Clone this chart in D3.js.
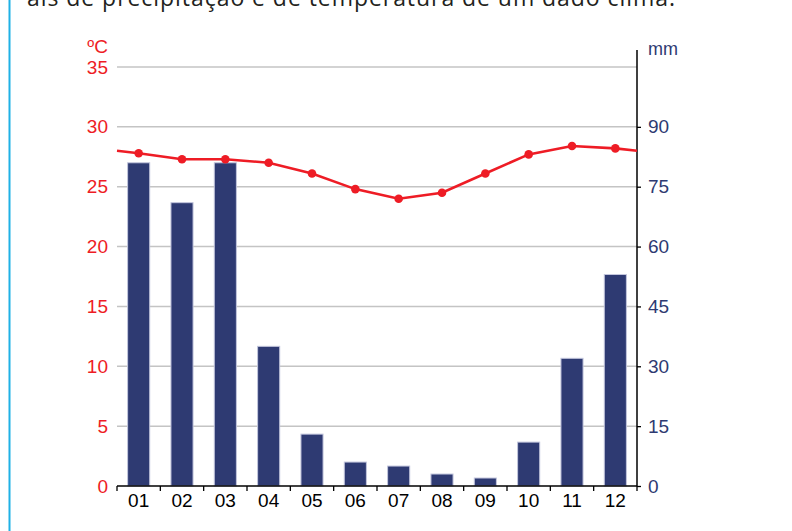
<!DOCTYPE html>
<html>
<head>
	<meta charset="utf-8">
	<title>climograma</title>
	<script src="https://cdn.jsdelivr.net/npm/d3@7"></script>
</head>
<style type="text/css">
body { margin:0; background:#fff; }
.tick text { font-family:"Liberation Sans", Arial, sans-serif; }
</style>
<body>
</body>
</html>
<script type="text/javascript">
	var months = ["01","02","03","04","05","06","07","08","09","10","11","12"];
	var rain = [81, 71, 81, 35, 13, 6, 5, 3, 2, 11, 32, 53];            // mm
	var temp = [27.8, 27.3, 27.3, 27.0, 26.1, 24.8, 24.0, 24.5, 26.1, 27.7, 28.4, 28.2]; // ºC
	var edgeTemp = 28.0;  // where the line meets the left and right edges
	var tempTicks = [0, 5, 10, 15, 20, 25, 30, 35];
	var rainTicks = [0, 15, 30, 45, 60, 75, 90];
	var title = "ais de precipitação e de temperatura de um dado clima.";

	var w = 792, h = 531;
	var left = 117, right = 637, topY = 67, bottom = 486;

	var svg = d3.select("body").append("svg").attr("width", w).attr("height", h);

	// frame line and cut title
	svg.append("line").attr("x1", 9.5).attr("x2", 9.5).attr("y1", 0).attr("y2", h)
		.attr("stroke", "#1fb1e6").attr("stroke-width", 2);
	svg.append("text").attr("x", 27).attr("y", 6)
		.attr("font-family", "Open Sans").attr("font-size", 23).attr("fill", "#231f20")
		.attr("textLength", 648).text(title);

	var x = d3.scaleBand().domain(months).range([left, right]).paddingInner(0.49).paddingOuter(0.245);
	var yT = d3.scaleLinear().domain([0, 35]).range([bottom, topY]);
	var yR = d3.scaleLinear().domain([0, 105]).range([bottom, topY]);

	// grid
	svg.append("g").selectAll("line").data(tempTicks.slice(1)).enter().append("line")
		.attr("x1", left).attr("x2", right)
		.attr("y1", function(d){return yT(d)}).attr("y2", function(d){return yT(d)})
		.attr("stroke", "#c4c4c4").attr("stroke-width", 1.5);

	// bars
	svg.append("g").selectAll("rect").data(rain).enter().append("rect")
		.attr("x", function(d,i){return x(months[i])})
		.attr("y", function(d){return yR(d)})
		.attr("width", x.bandwidth())
		.attr("height", function(d){return bottom - yR(d)})
		.attr("fill", "#2e3a72").attr("stroke", "#c3c6dd").attr("stroke-width", 1);

	// left axis (labels only)
	var yaxis = d3.axisLeft(yT).tickValues(tempTicks).tickSize(0).tickPadding(9);
	var gl = svg.append("g").attr("transform", "translate(" + left + ",0)").call(yaxis);
	gl.select(".domain").remove();
	gl.selectAll("text").attr("fill", "#ee1c25").attr("font-size", 19);
	svg.append("text").attr("x", 108).attr("y", 53).attr("text-anchor", "end")
		.attr("font-family", "Liberation Sans").attr("font-size", 19).attr("fill", "#ee1c25").text("ºC");

	// right axis
	var raxis = d3.axisRight(yR).tickValues(rainTicks).tickSize(4).tickPadding(7);
	var gr = svg.append("g").attr("transform", "translate(" + right + ",0)").call(raxis);
	gr.select(".domain").remove();
	gr.selectAll("line").attr("stroke", "#000").attr("stroke-width", 1.3);
	gr.selectAll("text").attr("fill", "#2e3a72").attr("font-size", 19);
	svg.append("line").attr("x1", right).attr("x2", right).attr("y1", 50).attr("y2", bottom)
		.attr("stroke", "#000").attr("stroke-width", 1.5);
	svg.append("text").attr("x", 648).attr("y", 55)
		.attr("font-family", "Liberation Sans").attr("font-size", 18).attr("fill", "#2e3a72").text("mm");

	// x axis
	var xaxis = d3.axisBottom(x).tickSize(0).tickPadding(8);
	var gx = svg.append("g").attr("transform", "translate(0," + bottom + ")").call(xaxis);
	gx.select(".domain").remove();
	gx.selectAll("text").attr("fill", "#000").attr("font-size", 19);
	svg.append("line").attr("x1", left).attr("x2", right).attr("y1", bottom).attr("y2", bottom)
		.attr("stroke", "#000").attr("stroke-width", 1.5);
	var step = x.step();
	svg.append("g").selectAll("line").data(d3.range(months.length + 1)).enter().append("line")
		.attr("x1", function(d){return left + d * step}).attr("x2", function(d){return left + d * step})
		.attr("y1", bottom).attr("y2", bottom + 5)
		.attr("stroke", "#000").attr("stroke-width", 1.3);

	// temperature line
	var cx = function(i){return x(months[i]) + x.bandwidth() / 2};
	var pts = [[left, yT(edgeTemp)]].concat(temp.map(function(d,i){return [cx(i), yT(d)]})).concat([[right, yT(edgeTemp)]]);
	svg.append("path").attr("d", d3.line()(pts))
		.attr("fill", "none").attr("stroke", "#ee1c25").attr("stroke-width", 2.6);
	svg.append("g").selectAll("circle").data(temp).enter().append("circle")
		.attr("cx", function(d,i){return cx(i)}).attr("cy", function(d){return yT(d)})
		.attr("r", 4.3).attr("fill", "#ee1c25");
</script>
